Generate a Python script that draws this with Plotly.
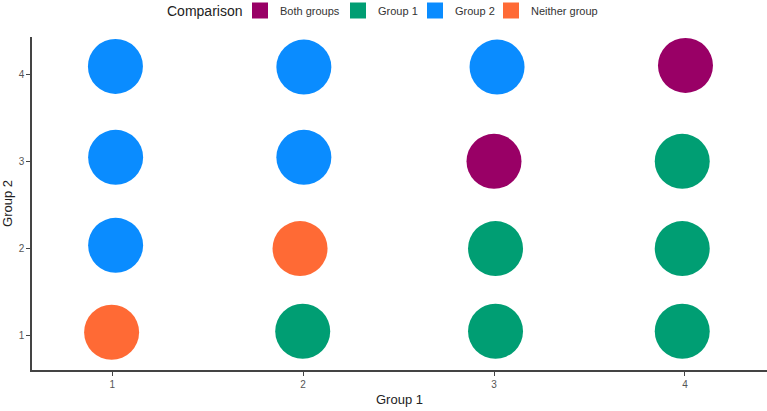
import plotly.graph_objects as go

# comparison categories and their colours
categories = ["Both groups", "Group 1", "Group 2", "Neither group"]
colors = ["#990066", "#009E73", "#0A8CFF", "#FF6A35"]
# legend entry widths, to keep the keys as tight as the ggplot legend
legend_widths = [53, 32, 31, 70]

# points (slightly jittered around the integer grid)
group1 = [1.017, 1.018, 1.018, 0.997,
          2.004, 2.004, 1.984, 1.998,
          3.016, 3.000, 3.008, 3.008,
          4.003, 3.986, 3.986, 3.986]
group2 = [4.092, 3.046, 2.034, 1.034,
          4.084, 3.046, 1.997, 1.046,
          4.084, 3.000, 1.997, 1.046,
          4.103, 3.000, 1.997, 1.046]
comparison = ["Group 2", "Group 2", "Group 2", "Neither group",
              "Group 2", "Group 2", "Neither group", "Group 1",
              "Group 2", "Both groups", "Group 1", "Group 1",
              "Both groups", "Group 1", "Group 1", "Group 1"]

fig = go.Figure()

for cat, col, lw in zip(categories, colors, legend_widths):
    xs = [x for x, c in zip(group1, comparison) if c == cat]
    ys = [y for y, c in zip(group2, comparison) if c == cat]
    fig.add_trace(go.Scatter(x=xs, y=ys, mode="markers", name=cat,
                             marker=dict(size=55, color=col), showlegend=False))
    # square legend key, like ggplot
    fig.add_trace(go.Scatter(x=[None], y=[None], mode="markers", name=cat,
                             legendwidth=lw,
                             marker=dict(size=16, color=col, symbol="square")))

fig.update_layout(
    width=767, height=411,
    margin=dict(l=32, r=0, t=37, b=41),
    plot_bgcolor="white", paper_bgcolor="white",
    font=dict(family="Liberation Sans, Arial, sans-serif", color="#333333"),
    legend=dict(orientation="h", xref="container", yref="container",
                x=240 / 767, y=1 - 10.5 / 411, xanchor="left", yanchor="middle",
                itemwidth=30, itemsizing="trace",
                font=dict(size=11, color="#333333")),
)

# legend title as its own text so the keys sit close to it
fig.add_annotation(text="Comparison", xref="paper", yref="paper",
                   x=(165 - 32) / 735, y=1 + (37 - 11) / 333,
                   xanchor="left", yanchor="middle", showarrow=False,
                   font=dict(size=14, color="#222222"))

fig.update_xaxes(range=[0.58, 4.43], tickvals=[1, 2, 3, 4], showgrid=False, zeroline=False,
                 automargin=False,
                 showline=True, linecolor="#444444", linewidth=1.5,
                 ticks="outside", ticklen=4, tickcolor="#444444",
                 tickfont=dict(size=10, color="#555555"),
                 title=dict(text="Group 1", font=dict(size=13, color="#222222"), standoff=6))
fig.update_yaxes(range=[0.6, 4.43], tickvals=[1, 2, 3, 4], showgrid=False, zeroline=False,
                 automargin=False,
                 showline=True, linecolor="#444444", linewidth=1.5,
                 ticks="outside", ticklen=4, tickcolor="#444444",
                 tickfont=dict(size=10, color="#555555"),
                 title=dict(text="Group 2", font=dict(size=13, color="#222222"), standoff=6))

# drop the page's default body margin so the figure sits at the window corner
fig.write_html("out.html", config={"displayModeBar": False},
               post_script="document.body.style.margin = '0';")
